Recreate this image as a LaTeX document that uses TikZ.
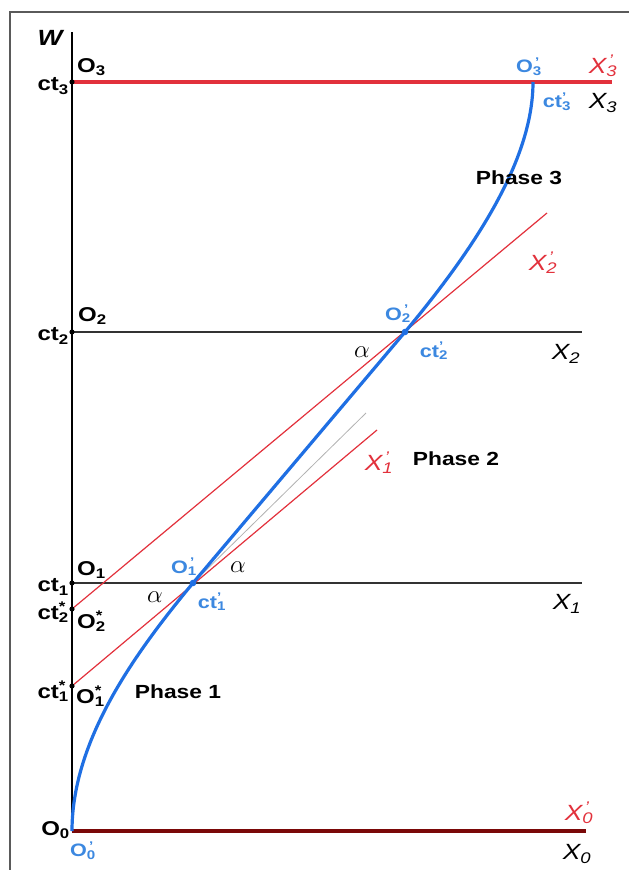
\documentclass[tikz,border=0pt]{standalone}
\usepackage{fontspec}
\setmainfont[FakeStretch=1.2]{Liberation Sans}
\definecolor{lred}{HTML}{E2313C}
\definecolor{lblue}{HTML}{1F6FE3}
\definecolor{tblue}{HTML}{3C88E0}
\definecolor{dred}{HTML}{7A0808}
\definecolor{frame}{HTML}{5A5A5A}
\newcommand\lb[3]{#1\rlap{\textsuperscript{#2}}\textsubscript{#3}}
\begin{document}
\begin{tikzpicture}[x=1pt,y=-1pt,
  lbl/.style={font=\fontsize{20}{20}\selectfont\bfseries, inner sep=0pt},
  blbl/.style={font=\fontsize{18}{18}\selectfont\bfseries, inner sep=0pt, text=tblue},
  xlbl/.style={font=\fontsize{22}{22}\selectfont\itshape, inner sep=0pt},
  rlbl/.style={xlbl, text=lred},
  phase/.style={font=\fontsize{19}{19}\selectfont\bfseries, inner sep=0pt},
  alab/.style={font=\fontsize{25}{25}\selectfont, inner sep=0pt},
  thinline/.style={draw=black!80, line width=1.1pt},
  redline/.style={draw=lred, line width=1.2pt},
  dotb/.style={fill=black},
]
\useasboundingbox (0,0) rectangle (629,870);
% frame
\draw[frame, line width=2.5pt] (10,875) -- (10,12) -- (640,12);
% coordinates
\coordinate (Top) at (72,32);
\coordinate (O0) at (72,831);
\coordinate (C3) at (72,82);
\coordinate (C2) at (72,332);
\coordinate (C1) at (72,583);
\coordinate (S2) at (72,609);
\coordinate (S1) at (72,686);
\coordinate (E3) at (612,82);
\coordinate (E2) at (582,332);
\coordinate (E1) at (582,583);
\coordinate (E0) at (586,831);
\coordinate (P1) at (193,583);
\coordinate (P2) at (405,332);
\coordinate (P3) at (533,82);
\coordinate (R1) at (377,430);
\coordinate (R2) at (547,213);
\coordinate (G1) at (366,413);
% horizontal lines
\draw[thinline] (C2) -- (E2);
\draw[thinline] (C1) -- (E1);
\draw[draw=lred, line width=4pt] (C3) -- (E3);
\draw[draw=dred, line width=4pt] (O0) -- (E0);
% red moving axes
\draw[redline] (S1) -- (R1);
\draw[redline] (S2) -- (R2);
% gray tangent
\draw[draw=black!30, line width=0.8pt] (P1) -- (G1);
% vertical axis
\draw[draw=black, line width=2.2pt] (Top) -- (O0);
% blue world line
\draw[draw=lblue, line width=3.2pt]
  (O0) .. controls (72,740) and (135,653) .. (P1)
  -- (P2)
  .. controls (475,248) and (533,160) .. (P3);
% dots
\foreach \c in {C3,C2,C1,S2,S1} \fill[dotb] (\c) circle (2.6);
\fill[lblue] (P1) circle (3.3);
\fill[lblue] (P2) circle (3.3);
% labels
\node[font=\fontsize{22}{22}\selectfont\bfseries\itshape, inner sep=0pt] (W) at (50,38) {W};
\node[lbl, anchor=west] (lO3) at (77,67) {\lb{O}{}{3}};
\node[lbl, anchor=east] (lc3) at (69,86) {ct\textsubscript{3}};
\node[lbl, anchor=west] (lO2) at (78,316) {\lb{O}{}{2}};
\node[lbl, anchor=east] (lc2) at (69,336) {ct\textsubscript{2}};
\node[lbl, anchor=west] (lO1) at (77,570) {\lb{O}{}{1}};
\node[lbl, anchor=east] (lc1) at (69,587) {ct\textsubscript{1}};
\node[lbl, anchor=west] (lS2) at (77,621) {\lb{O}{*}{2}};
\node[lbl, anchor=east] (lcs2) at (69,612) {ct\lb{}{*}{2}};
\node[lbl, anchor=west] (lS1) at (76,696) {\lb{O}{*}{1}};
\node[lbl, anchor=east] (lcs1) at (69,691) {ct\lb{}{*}{1}};
\node[lbl, anchor=east] (lO0) at (70,830) {\lb{O}{}{0}};
% blue labels
\node[blbl] (bO0) at (83,851) {\lb{O}{\,'}{0}};
\node[blbl] (bO1) at (184,567) {\lb{O}{\,'}{1}};
\node[blbl] (bc1) at (212,602) {ct\lb{}{'}{1}};
\node[blbl] (bO2) at (398,314) {\lb{O}{\,'}{2}};
\node[blbl] (bc2) at (434,351) {ct\lb{}{'}{2}};
\node[blbl] (bO3) at (529,67) {\lb{O}{\,'}{3}};
\node[blbl] (bc3) at (557,102) {ct\lb{}{'}{3}};
% X labels
\node[rlbl] (rX3) at (603,66) {\lb{X}{\,'}{3}};
\node[xlbl] (X3) at (603,103) {\lb{X}{}{3}};
\node[rlbl] (rX2) at (543,263) {\lb{X}{\,'}{2}};
\node[xlbl] (X2) at (566,354) {\lb{X}{}{2}};
\node[rlbl] (rX1) at (379,463) {\lb{X}{\,'}{1}};
\node[xlbl] (X1) at (567,604) {\lb{X}{}{1}};
\node[rlbl] (rX0) at (579,813) {\lb{X}{\,'}{0}};
\node[xlbl] (X0) at (577,854) {\lb{X}{}{0}};
% alphas
\node[alab] (a1) at (155,597) {$\alpha$};
\node[alab] (a2) at (238,567) {$\alpha$};
\node[alab] (a3) at (362,352) {$\alpha$};
% phases
\node[phase] (ph3) at (519,178) {Phase 3};
\node[phase] (ph2) at (456,459) {Phase 2};
\node[phase] (ph1) at (178,692) {Phase 1};
\end{tikzpicture}
\end{document}
